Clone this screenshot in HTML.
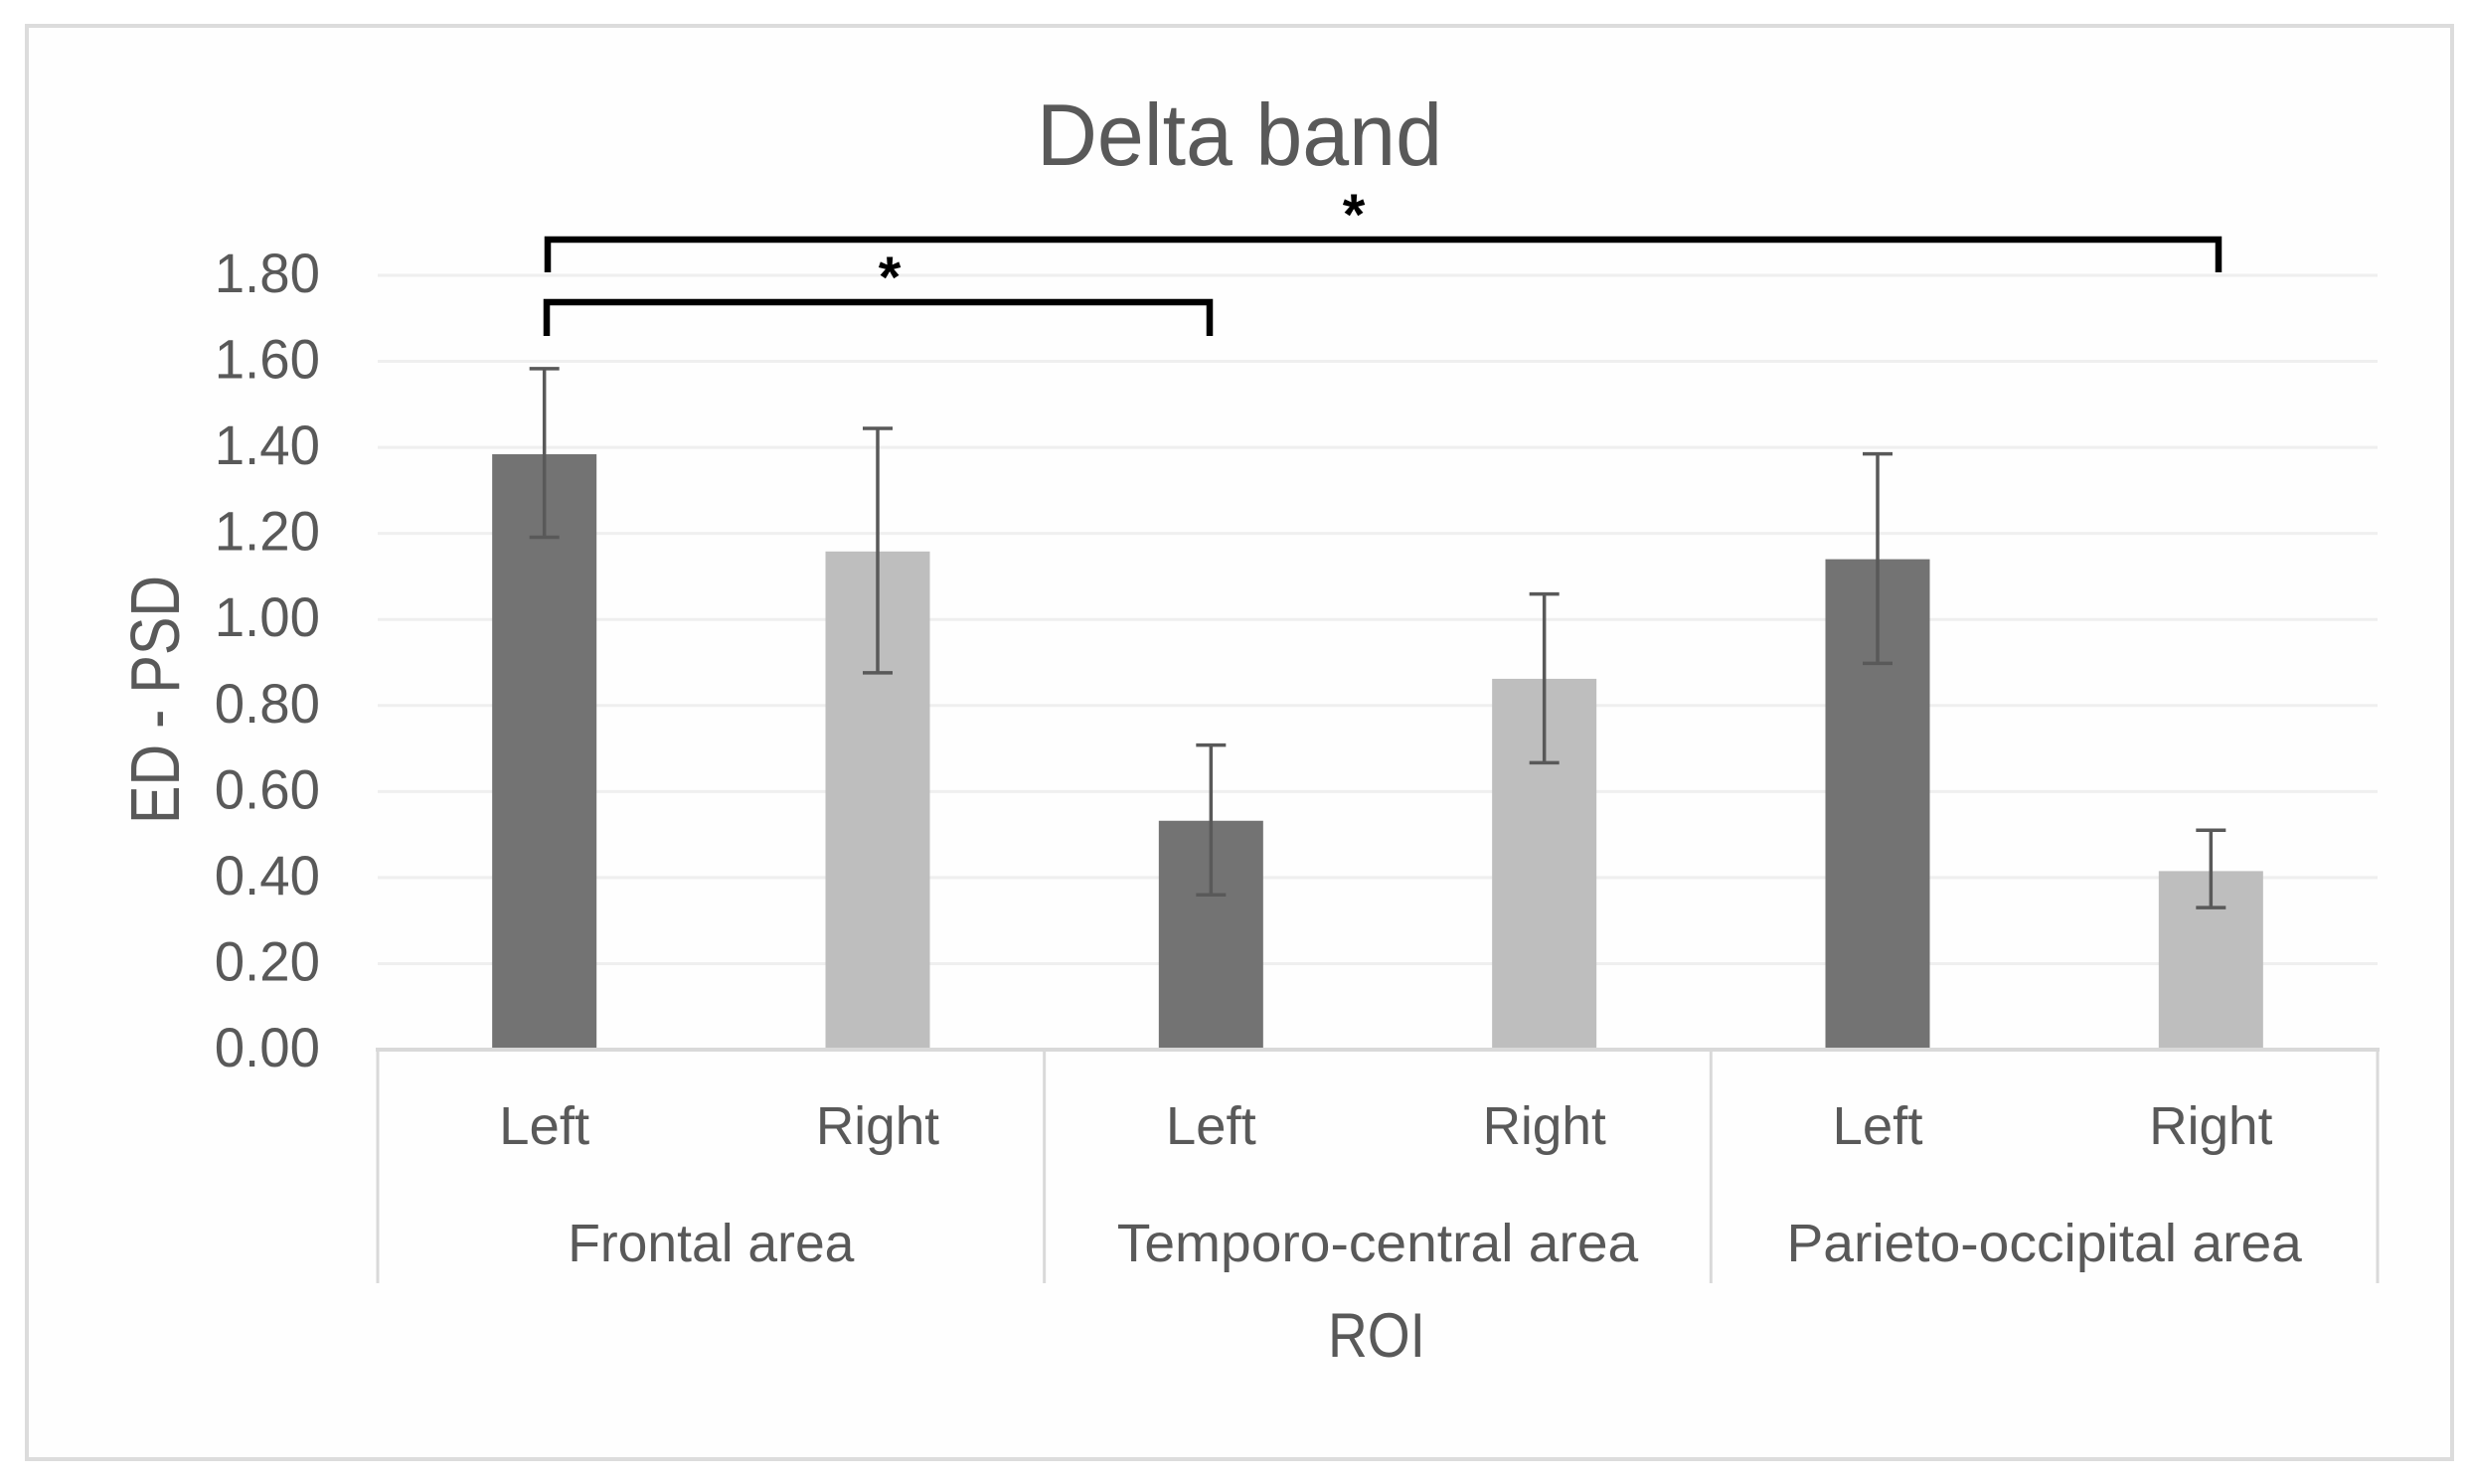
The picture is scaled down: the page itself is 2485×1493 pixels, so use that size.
<!DOCTYPE html>
<html lang="en">
<head>
<meta charset="utf-8">
<title>Delta band</title>
<style>
  html, body { margin: 0; padding: 0; background: #fff; }
  svg { display: block; font-family: "Liberation Sans", Arial, sans-serif; }
  text { fill: #595959; }
</style>
</head>
<body>
<svg id="chart" xmlns="http://www.w3.org/2000/svg" width="2485" height="1493" viewBox="0 0 2485 1493">
  <rect x="0" y="0" width="2485" height="1493" fill="#ffffff"/>
  <rect x="27" y="26" width="2440" height="1442" fill="#fefefe" stroke="#dcdcdc" stroke-width="4"/>
  <g id="grid"></g>
  <g id="yticks"></g>
  <g id="bars"></g>
  <g id="errors"></g>
  <g id="xaxis"></g>
  <text x="1247" y="166" font-size="88" text-anchor="middle" textLength="408" lengthAdjust="spacingAndGlyphs">Delta band</text>
  <text transform="translate(180,704) rotate(-90)" font-size="70" text-anchor="middle" textLength="250" lengthAdjust="spacingAndGlyphs">ED - PSD</text>
  <text x="1385" y="1365" font-size="63" text-anchor="middle" textLength="98" lengthAdjust="spacingAndGlyphs">ROI</text>
  <path d="M551 274 V241 H2232 V274" fill="none" stroke="#000000" stroke-width="6.5"/>
  <path d="M550 338 V304 H1217 V338" fill="none" stroke="#000000" stroke-width="6.5"/>
  <text x="1362" y="236" font-size="58" font-weight="bold" text-anchor="middle" style="fill:#000000">*</text>
  <text x="895" y="299" font-size="58" font-weight="bold" text-anchor="middle" style="fill:#000000">*</text>
</svg>
<script>
const yTickLabels = ["0.00", "0.20", "0.40", "0.60", "0.80", "1.00", "1.20", "1.40", "1.60", "1.80"];
const regions = ["Frontal area", "Temporo-central area", "Parieto-occipital area"];
const hemispheres = ["Left", "Right"];
const barValues = [1.384, 1.158, 0.532, 0.862, 1.14, 0.415];
const errorHigh = [1.583, 1.444, 0.708, 1.059, 1.385, 0.51];
const errorLow = [1.191, 0.876, 0.36, 0.667, 0.898, 0.33];

const NS = "http://www.w3.org/2000/svg";
const plotLeft = 380, plotRight = 2392, axisY = 1056, unitHeight = 432.8;
const catCount = regions.length * hemispheres.length;
const catWidth = (plotRight - plotLeft) / catCount;
const barWidth = 105;
const capWidth = 30;

function yScale(v) { return axisY - v * unitHeight; }
function xScale(i) { return plotLeft + catWidth * (i + 0.5); }

function make(parent, tag, attrs) {
  const el = document.createElementNS(NS, tag);
  for (const k in attrs) el.setAttribute(k, attrs[k]);
  parent.appendChild(el);
  return el;
}
function fitText(el, ratio) {
  el.setAttribute("textLength", (el.getComputedTextLength() * ratio).toFixed(1));
  el.setAttribute("lengthAdjust", "spacingAndGlyphs");
}
function regionFit(name) { return name.length > 12 ? 1.022 : 0.99; }
function hemisphereFit(name) { return name === "Left" ? 1.01 : 0.985; }

const gridG = document.getElementById("grid");
const tickG = document.getElementById("yticks");
yTickLabels.forEach(function (label) {
  const v = parseFloat(label);
  if (v > 0) {
    const line = make(gridG, "line", { x1: plotLeft, x2: plotRight, y1: yScale(v), y2: yScale(v), stroke: "#efefef", "stroke-width": 3 });
    
    
  }
  const t = make(tickG, "text", { x: 322, y: yScale(v) + 17, "font-size": 56, "text-anchor": "end" });
  t.textContent = label;
  fitText(t, 0.975);
  
  
});

const barG = document.getElementById("bars");
const errG = document.getElementById("errors");
barValues.forEach(function (v, i) {
  const cx = xScale(i);
  const bar = make(barG, "rect", {
    x: cx - barWidth / 2, y: yScale(v), width: barWidth, height: axisY - yScale(v),
    fill: i % 2 === 0 ? "#737373" : "#bebebe"
  });
  
  

  const hi = yScale(errorHigh[i]), lo = yScale(errorLow[i]);
  const err = make(errG, "path", {
    d: "M" + cx + " " + hi + "V" + lo + "M" + (cx - capWidth / 2) + " " + hi + "H" + (cx + capWidth / 2) + "M" + (cx - capWidth / 2) + " " + lo + "H" + (cx + capWidth / 2),
    fill: "none", stroke: "#595959", "stroke-width": 3.5
  });
  
  
});

const xG = document.getElementById("xaxis");
const baseline = make(xG, "line", { x1: plotLeft - 2, x2: plotRight + 2, y1: axisY, y2: axisY, stroke: "#d9d9d9", "stroke-width": 4 });



const groupWidth = (plotRight - plotLeft) / regions.length;
for (let g = 0; g <= regions.length; g++) {
  const x = plotLeft + g * groupWidth;
  const div = make(xG, "line", { x1: x, x2: x, y1: axisY, y2: 1291, stroke: "#d9d9d9", "stroke-width": 3 });
  
  
}
regions.forEach(function (name, g) {
  const t = make(xG, "text", { x: plotLeft + (g + 0.5) * groupWidth, y: 1269, "font-size": 54, "text-anchor": "middle" });
  t.textContent = name;
  fitText(t, regionFit(name));
  
  
  hemispheres.forEach(function (h, j) {
    const s = make(xG, "text", { x: xScale(g * hemispheres.length + j), y: 1151, "font-size": 54, "text-anchor": "middle" });
    s.textContent = h;
    fitText(s, hemisphereFit(h));
    
    
  });
});
</script>
</body>
</html>
